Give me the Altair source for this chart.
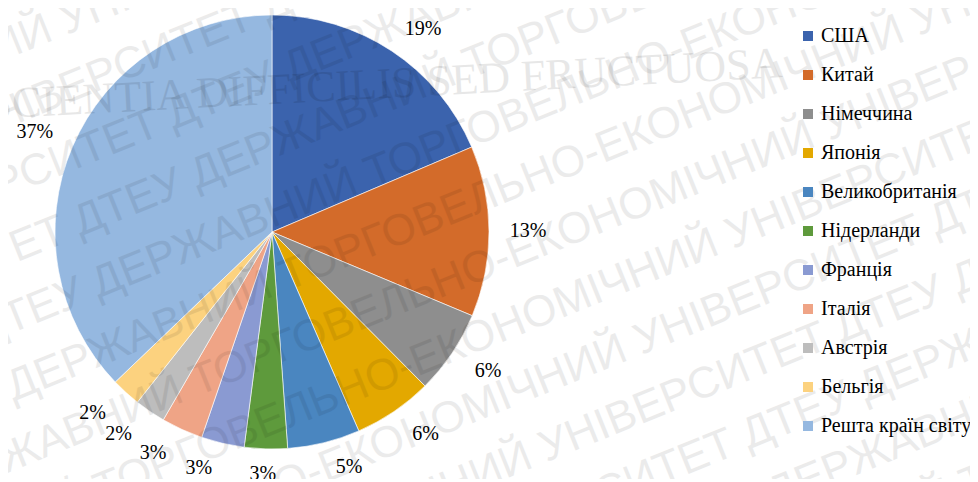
import altair as alt
import pandas as pd

countries = ["США", "Китай", "Німеччина", "Японія", "Великобританія", "Нідерланди",
             "Франція", "Італія", "Австрія", "Бельгія", "Решта країн світу"]
shares = [18.6, 12.7, 6.25, 5.9, 5.4, 3.2, 3.2, 3.1, 2.3, 2.2, 37.15]
colors = ["#3B63AD", "#D36B2A", "#8E8E8E", "#E3A800", "#4A86C0", "#5E9A3C",
          "#8A9AD2", "#EFA486", "#BDBDBD", "#FCD27F", "#95B8E0"]

watermark_phrase = "ДТЕУ ДЕРЖАВНИЙ ТОРГОВЕЛЬНО-ЕКОНОМІЧНИЙ УНІВЕРСИТЕТ "
motto = "SCIENTIA   DIFFICILIS   SED   FRUCTUOSA"

SERIF = "Times New Roman, Liberation Serif, serif"
W, H = 957, 466          # whole drawing area (autosize none)
CX, CY, R = 259, 219, 217  # pie centre and radius inside it

df = pd.DataFrame({"country": countries, "share": shares, "idx": list(range(len(countries)))})

color = alt.Color(
    "country:N",
    scale=alt.Scale(domain=countries, range=colors),
    sort=countries,
    legend=alt.Legend(
        title=None, orient="none", legendX=785, legendY=13,
        labelFont=SERIF, labelFontSize=20, labelColor="#000000",
        symbolType="square", symbolSize=100, symbolStrokeWidth=0,
        labelOffset=3, rowPadding=19, labelLimit=300,
    ),
)

pie = alt.Chart(df).mark_arc(radius=R, stroke="white", strokeWidth=0.6).encode(
    theta=alt.Theta("share:Q", stack=True),
    order=alt.Order("idx:Q"),
    color=color,
    x=alt.value(CX), y=alt.value(CY),
)

labels = alt.Chart(df).transform_joinaggregate(
    total="sum(share)"
).transform_window(
    cum="sum(share)", sort=[alt.SortField("idx")], frame=[None, 0]
).transform_calculate(
    frac="datum.share / datum.total",
    mid="2 * PI * (datum.cum - datum.share / 2) / datum.total",
).transform_calculate(
    lx=f"{CX} + {R + 17} * sin(datum.mid) + 22 * clamp(4 * sin(datum.mid), -1, 1)",
    ly=f"{CY} - {R + 17} * cos(datum.mid) - 8 * clamp(4 * cos(datum.mid), -1, 1)",
).mark_text(font=SERIF, fontSize=20, color="#000000", align="center", baseline="middle").encode(
    x=alt.X("lx:Q", scale=None, axis=None),
    y=alt.Y("ly:Q", scale=None, axis=None),
    text=alt.Text("frac:Q", format=".0%"),
)

# faint background watermark (decoration)
wm_lines = [(watermark_phrase * 4)[k * 9:] for k in range(14)]
watermark = alt.Chart(df).transform_filter("datum.idx == 0").mark_text(
    font="Liberation Sans, Arial, sans-serif", fontSize=44, angle=338,
    lineHeight=64, color="#000000", opacity=0.075, align="center", baseline="middle",
).encode(
    x=alt.value(338), y=alt.value(-107), text=alt.value(wm_lines)
)

motto_text = alt.Chart(df).transform_filter("datum.idx == 0").mark_text(
    font=SERIF, fontSize=44, color="#000000", opacity=0.09, align="center", baseline="middle",
    angle=357,
).encode(
    x=alt.value(372), y=alt.value(72), text=alt.value(motto)
)

chart = alt.layer(pie, labels, watermark, motto_text).properties(
    width=W, height=H,
    autosize=alt.AutoSizeParams(type="none"),
    padding={"left": 5, "top": 5, "right": 0, "bottom": 0},
    background="white",
).configure_view(strokeWidth=0).configure_legend(labelFont=SERIF)

chart.save("out.html", embed_options={"renderer": "svg", "actions": False})
